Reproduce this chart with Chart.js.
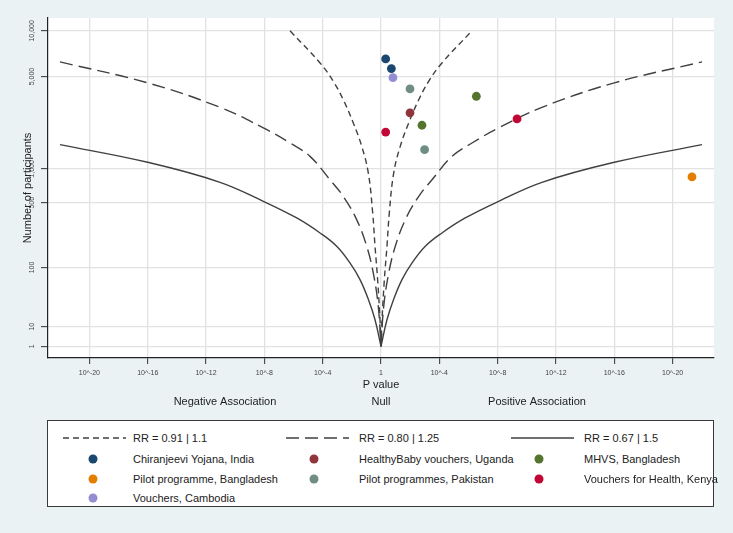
<!DOCTYPE html>
<html>
<head>
<meta charset="utf-8">
<script src="https://cdn.jsdelivr.net/npm/chart.js@4.4.1/dist/chart.umd.min.js"></script>
<style>
  body { margin: 0; background: #eaf2f3; font-family: "Liberation Sans", Arial, sans-serif; }
  #wrap { position: relative; width: 733px; height: 533px; }
  #legend { position: absolute; left: 47px; top: 420px; width: 667px; height: 87px; background: #fff; border: 1px solid #3a3a3a; box-sizing: border-box; }
  .item { position: absolute; font-size: 11px; color: #222; white-space: nowrap; line-height: 12px; transform: translateY(-50%); }
  .dot { position: absolute; width: 9px; height: 9px; border-radius: 50%; transform: translate(-50%, -50%); }
  .sample { position: absolute; transform: translateY(-50%); }
</style>
</head>
<body>
<div id="wrap">
  <canvas id="chart" width="733" height="533"></canvas>
  <div id="legend"></div>
</div>
<script>
// Axis ticks
const xTicks = [-20, -16, -12, -8, -4, 0, 4, 8, 12, 16, 20];   // signed -log10(p)
const yTickN = [1, 10, 100, 500, 1000, 5000, 10000];

// Studies (x = signed -log10 p value, positive = positive association)
const studyNames = [
  'Chiranjeevi Yojana, India',
  'HealthyBaby vouchers, Uganda',
  'MHVS, Bangladesh',
  'Pilot programme, Bangladesh',
  'Pilot programmes, Pakistan',
  'Vouchers for Health, Kenya',
  'Vouchers, Cambodia'
];
const studyLogP = [[0.32, 0.71], [1.99], [2.81, 6.54], [21.33], [1.99, 2.99], [0.32, 9.33], [0.82]];
const studyN = [[6570, 5660], [2760], [2230, 3640], [853], [4100, 1440], [1980, 2490], [4910]];
const studyColors = ['#1a476f', '#90353b', '#55752f', '#e37e00', '#6e8e84', '#c10534', '#938dd2'];

const contourLabels = ['RR = 0.91 | 1.1', 'RR = 0.80 | 1.25', 'RR = 0.67 | 1.5'];
const rr091LogP = [6.24, 4.18, 3.27, 2.59, 1.90, 1.32, 0.87, 0.57, 0.41, 0.23, 0.07, 0];
const rr091N = [10000, 6180, 4630, 3440, 2320, 1530, 922, 399, 179, 69, 14.5, 1];
const rr080LogP = [22.02, 16.0, 11.04, 8.07, 6.24, 4.87, 3.50, 2.59, 1.67, 0.98, 0.53, 0.19, 0];
const rr080N = [6280, 4520, 3030, 2130, 1626, 1270, 807, 573, 343, 179, 85, 27, 1];
const rr067LogP = [22.02, 16.0, 11.04, 8.07, 5.78, 4.18, 3.04, 2.13, 1.44, 0.87, 0.41, 0];
const rr067N = [1579, 1135, 766, 515, 356, 250, 179, 114, 69, 35, 14.5, 1];
const contourLogP = [rr091LogP, rr080LogP, rr067LogP];
const contourN = [rr091N, rr080N, rr067N];
const contourDash = [[6, 4], [13, 6], []];

// Below-axis labels
const sideLabels = ['Negative Association', 'Null', 'Positive Association'];
const sideLabelX = [-10.7, 0, 10.7];

const LINE = '#404040';
const FONT = '"Liberation Sans", Arial, sans-serif';

// y axis is squared log10 of the number of participants
function toY(n) {
  const l = Math.log10(n);
  return l * l;
}

// Build datasets
const datasets = [];
studyNames.forEach((name, i) => {
  datasets.push({
    label: name,
    data: studyLogP[i].map((x, j) => ({ x: x, y: toY(studyN[i][j]) })),
    backgroundColor: studyColors[i],
    borderWidth: 0,
    pointRadius: 4.4,
    order: 0
  });
});
contourLabels.forEach((label, i) => {
  const left = contourLogP[i].map((x, j) => ({ x: -x, y: toY(contourN[i][j]) }));
  const right = contourLogP[i].map((x, j) => ({ x: x, y: toY(contourN[i][j]) })).reverse();
  [left, right].forEach(pts => {
    datasets.push({
      label: label,
      data: pts,
      showLine: true,
      borderColor: LINE,
      borderWidth: 1.4,
      borderDash: contourDash[i],
      pointRadius: 0,
      tension: 0.4,
      order: 1
    });
  });
});

// Plot background and extra text
const extras = {
  id: 'extras',
  beforeDraw(chart) {
    const a = chart.chartArea;
    const ctx = chart.ctx;
    ctx.save();
    ctx.fillStyle = '#fff';
    ctx.fillRect(a.left, a.top, a.right - a.left, a.bottom - a.top);
    ctx.restore();
  },
  afterDraw(chart) {
    const ctx = chart.ctx;
    const xs = chart.scales.x;
    const ys = chart.scales.y;
    const a = chart.chartArea;
    ctx.save();
    ctx.textAlign = 'center';
    ctx.textBaseline = 'middle';

    // rotated y tick labels
    ctx.fillStyle = '#444';
    ctx.font = '7px ' + FONT;
    yTickN.forEach(n => {
      ctx.save();
      ctx.translate(32.5, ys.getPixelForValue(toY(n)));
      ctx.rotate(-Math.PI / 2);
      ctx.fillText(n.toLocaleString('en-US'), 0, 0);
      ctx.restore();
    });

    ctx.fillStyle = '#222';
    ctx.font = '11px ' + FONT;
    ctx.save();
    ctx.translate(28, (a.top + a.bottom) / 2);
    ctx.rotate(-Math.PI / 2);
    ctx.fillText('Number of participants', 0, 0);
    ctx.restore();

    ctx.fillText('P value', xs.getPixelForValue(0), 385);
    sideLabels.forEach((t, i) => {
      ctx.fillText(t, xs.getPixelForValue(sideLabelX[i]), 402);
    });
    ctx.restore();
  }
};

const chart = new Chart(document.getElementById('chart'), {
  type: 'scatter',
  data: { datasets: datasets },
  options: {
    responsive: false,
    animation: false,
    devicePixelRatio: 1,
    layout: { padding: { top: 18, right: 19, left: 0, bottom: 0 } },
    plugins: { legend: { display: false }, tooltip: { enabled: false } },
    scales: {
      x: {
        type: 'linear',
        min: -22.84,
        max: 22.84,
        afterBuildTicks: s => { s.ticks = xTicks.map(v => ({ value: v })); },
        afterFit: s => { s.height = 175; },
        ticks: {
          color: '#444',
          font: { size: 7, family: FONT },
          padding: 5,
          maxRotation: 0,
          callback: v => v === 0 ? '1' : '10^-' + Math.abs(v)
        },
        grid: { color: '#e2e2e2', lineWidth: 1.3, tickColor: '#333', tickLength: 6, tickWidth: 1 },
        border: { color: '#222', width: 1.2 }
      },
      y: {
        type: 'linear',
        min: -0.59,
        max: 16.65,
        afterBuildTicks: s => { s.ticks = yTickN.map(n => ({ value: toY(n) })); },
        afterFit: s => { s.width = 48; },
        ticks: { display: false },
        grid: { color: '#e2e2e2', lineWidth: 1.3, tickColor: '#333', tickLength: 7, tickWidth: 1 },
        border: { color: '#222', width: 1.2 }
      }
    }
  },
  plugins: [extras]
});

// HTML legend
const legendEl = document.getElementById('legend');
const colSample = [15, 238, 463];
const colDot = [45, 266, 491];
const colText = [85, 311, 536];
const rowY = [17, 38, 58, 77];

contourLabels.forEach((label, i) => {
  const svg = document.createElementNS('http://www.w3.org/2000/svg', 'svg');
  svg.setAttribute('width', '63');
  svg.setAttribute('height', '4');
  svg.setAttribute('class', 'sample');
  svg.style.left = colSample[i] + 'px';
  svg.style.top = rowY[0] + 'px';
  const ln = document.createElementNS('http://www.w3.org/2000/svg', 'line');
  ln.setAttribute('x1', '0'); ln.setAttribute('y1', '2');
  ln.setAttribute('x2', '63'); ln.setAttribute('y2', '2');
  ln.setAttribute('stroke', LINE);
  ln.setAttribute('stroke-width', '1.4');
  if (contourDash[i].length) ln.setAttribute('stroke-dasharray', contourDash[i].join(' '));
  svg.appendChild(ln);
  legendEl.appendChild(svg);

  const t = document.createElement('div');
  t.className = 'item';
  t.textContent = label;
  t.style.left = colText[i] + 'px';
  t.style.top = rowY[0] + 'px';
  legendEl.appendChild(t);
});

studyNames.forEach((name, i) => {
  const row = Math.floor(i / 3) + 1;
  const col = i % 3;
  const d = document.createElement('div');
  d.className = 'dot';
  d.style.background = studyColors[i];
  d.style.left = colDot[col] + 'px';
  d.style.top = rowY[row] + 'px';
  legendEl.appendChild(d);

  const t = document.createElement('div');
  t.className = 'item';
  t.textContent = name;
  t.style.left = colText[col] + 'px';
  t.style.top = rowY[row] + 'px';
  legendEl.appendChild(t);
});
</script>
</body>
</html>
